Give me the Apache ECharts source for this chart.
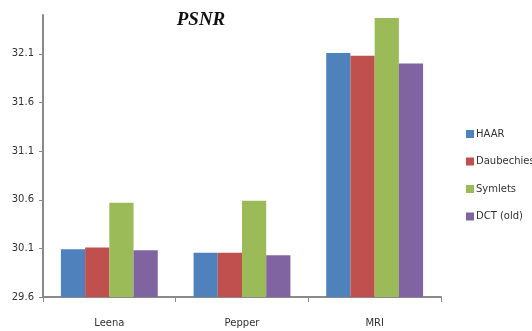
<!DOCTYPE html>
<html>
<head>
<meta charset="utf-8">
<script src="https://cdn.jsdelivr.net/npm/echarts@6/dist/echarts.min.js"></script>
<style>
  html, body { margin: 0; padding: 0; background: #fff; }
  #chart { width: 532px; height: 331px; }
</style>
</head>
<body>
<div id="chart"></div>
<script>
const categories = ["Leena", "Pepper", "MRI"];
const haar = [30.09, 30.055, 32.11];
const daubechies = [30.11, 30.055, 32.08];
const symlets = [30.57, 30.59, 32.47];
const dct = [30.08, 30.03, 32.0];
const yTicks = [29.6, 30.1, 30.6, 31.1, 31.6, 32.1];

const chart = echarts.init(document.getElementById("chart"));

function bar(name, data, color) {
  return {
    name: name,
    type: "bar",
    data: data,
    barGap: 0,
    barCategoryGap: "27%",
    itemStyle: { color: color },
    animation: false
  };
}

chart.setOption({
  title: {
    text: "PSNR",
    left: 196,
    top: 6,
    textAlign: "center",
    textStyle: {
      fontFamily: "Liberation Serif",
      fontStyle: "italic",
      fontWeight: "bold",
      fontSize: 19,
      color: "#111"
    }
  },
  legend: {
    orient: "vertical",
    left: 461,
    top: 124,
    itemWidth: 8,
    itemHeight: 8,
    itemGap: 17.5,
    icon: "rect",
    textStyle: { fontFamily: "DejaVu Sans", fontSize: 10, color: "#333", padding: [0, 0, 0, -3] },
    data: ["HAAR", "Daubechies", "Symlets", "DCT (old)"]
  },
  grid: { left: 43, right: 91, top: 15, bottom: 34 },
  xAxis: {
    type: "category",
    data: categories,
    axisLine: { lineStyle: { color: "#8a8a8a", width: 2 } },
    axisTick: { show: true, length: 5, lineStyle: { color: "#8a8a8a" } },
    axisLabel: { fontFamily: "DejaVu Sans", fontSize: 10, color: "#333", margin: 21 }
  },
  yAxis: {
    type: "value",
    min: 29.6,
    max: 32.5,
    splitLine: { show: false },
    axisLine: { show: true, lineStyle: { color: "#8a8a8a", width: 2 } },
    axisTick: { show: true, length: 4, lineStyle: { color: "#8a8a8a" }, customValues: yTicks },
    axisLabel: {
      fontFamily: "DejaVu Sans",
      fontSize: 10,
      color: "#333",
      margin: 9,
      customValues: yTicks,
      formatter: v => v.toFixed(1)
    }
  },
  series: [
    bar("HAAR", haar, "#4F81BD"),
    bar("Daubechies", daubechies, "#C0504D"),
    bar("Symlets", symlets, "#9BBB59"),
    bar("DCT (old)", dct, "#8064A2")
  ]
});
</script>
</body>
</html>
